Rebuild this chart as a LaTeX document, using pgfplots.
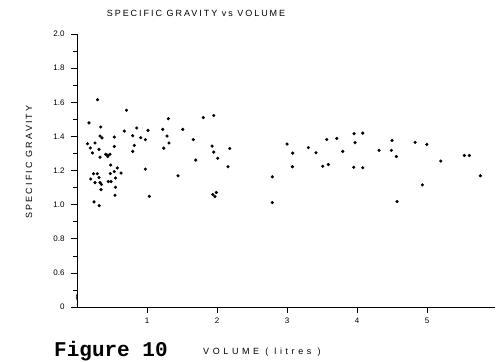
\documentclass[border=0pt]{standalone}
\usepackage{fontspec}
\setmainfont{Liberation Sans}
\newfontfamily\monofont{Liberation Mono}
\newfontfamily\spacedfont[LetterSpace=22]{Liberation Sans}
\newfontfamily\labelfont[LetterSpace=24]{Liberation Sans}
\newfontfamily\widefont[LetterSpace=40]{Liberation Sans}
\usepackage{pgfplots}
\pgfplotsset{compat=1.18}
\pgfplotstableread{
x y
0.293 1.615
0.707 1.553
0.171 1.479
0.339 1.455
0.329 1.402
0.357 1.391
0.533 1.396
0.676 1.431
0.150 1.357
0.257 1.361
0.190 1.332
0.314 1.324
0.221 1.303
0.533 1.341
0.410 1.295
0.440 1.290
0.470 1.295
0.440 1.282
0.329 1.278
0.481 1.232
0.576 1.215
0.533 1.194
0.629 1.185
0.476 1.182
0.236 1.181
0.290 1.181
0.196 1.150
0.314 1.159
0.257 1.129
0.329 1.129
0.350 1.118
0.447 1.135
0.486 1.135
0.550 1.156
0.343 1.088
0.550 1.102
0.543 1.055
0.243 1.016
0.317 0.994
1.304 1.504
1.804 1.510
1.953 1.522
0.853 1.449
1.014 1.435
1.224 1.441
1.510 1.441
0.796 1.404
0.910 1.392
0.976 1.381
1.286 1.402
1.661 1.381
0.819 1.347
1.314 1.361
0.796 1.312
1.239 1.331
1.929 1.343
1.953 1.308
2.181 1.329
2.010 1.272
1.696 1.261
2.157 1.222
0.976 1.208
1.443 1.169
1.033 1.049
1.940 1.059
1.970 1.047
1.990 1.071
2.790 1.163
2.790 1.012
3.000 1.355
3.081 1.302
3.076 1.222
3.304 1.334
3.414 1.304
3.510 1.225
3.590 1.235
3.567 1.382
3.710 1.388
3.796 1.312
3.957 1.416
4.081 1.419
3.971 1.363
3.953 1.219
4.081 1.216
4.314 1.318
4.500 1.376
4.490 1.318
4.561 1.282
4.829 1.365
4.996 1.353
5.196 1.255
4.933 1.116
4.571 1.018
5.533 1.288
5.604 1.288
5.761 1.169
}\sgdata
\begin{document}
\begin{tikzpicture}
\path[use as bounding box] (-77pt,-54pt) rectangle (420pt,307pt);
\begin{axis}[
  at={(0pt,0pt)}, anchor=south west,
  scale only axis, width=418pt, height=273pt,
  xmin=0, xmax=5.97, ymin=0.4, ymax=2.0,
  axis lines=left, axis line style={-, line width=0.8pt},
  xtick={1,2,3,4,5},
  ytick={0.4,0.6,0.8,1.0,1.2,1.4,1.6,1.8,2.0},
  yticklabels={0,0.6,0.8,1.0,1.2,1.4,1.6,1.8,2.0},
  minor ytick={0.5,0.7,0.9,1.1,1.3,1.5,1.7,1.9},
  tick align=outside,
  major tick length=6pt, minor tick length=4pt,
  tick style={black, line width=0.6pt},
  ticklabel style={font=\fontsize{8}{9}\selectfont},
  yticklabel style={xshift=-3pt},
  xticklabel style={yshift=-1pt},
  /pgf/number format/assume math mode=true,
  clip=false,
]
\addplot[only marks, mark=*, mark size=1.4pt, black] table[x=x, y=y] {\sgdata};
\end{axis}
\draw[line width=0.6pt] (0pt,2pt) .. controls (3pt,5pt) and (-3pt,9pt) .. (0pt,13pt);
\node[font=\spacedfont\fontsize{9}{10}\selectfont] at (119pt,294pt) {SPECIFIC GRAVITY vs VOLUME};
\node[rotate=90, font=\labelfont\fontsize{9}{10}\selectfont] at (-48pt,145pt) {SPECIFIC GRAVITY};
\node[anchor=base west, inner sep=0pt, font=\monofont\bfseries\fontsize{21}{23}\selectfont] at (-23pt,-49pt) {Figure 10};
\node[anchor=base west, inner sep=0pt, font=\widefont\fontsize{9}{10}\selectfont] at (126pt,-47pt) {VOLUME ( litres )};
\end{tikzpicture}
\end{document}
